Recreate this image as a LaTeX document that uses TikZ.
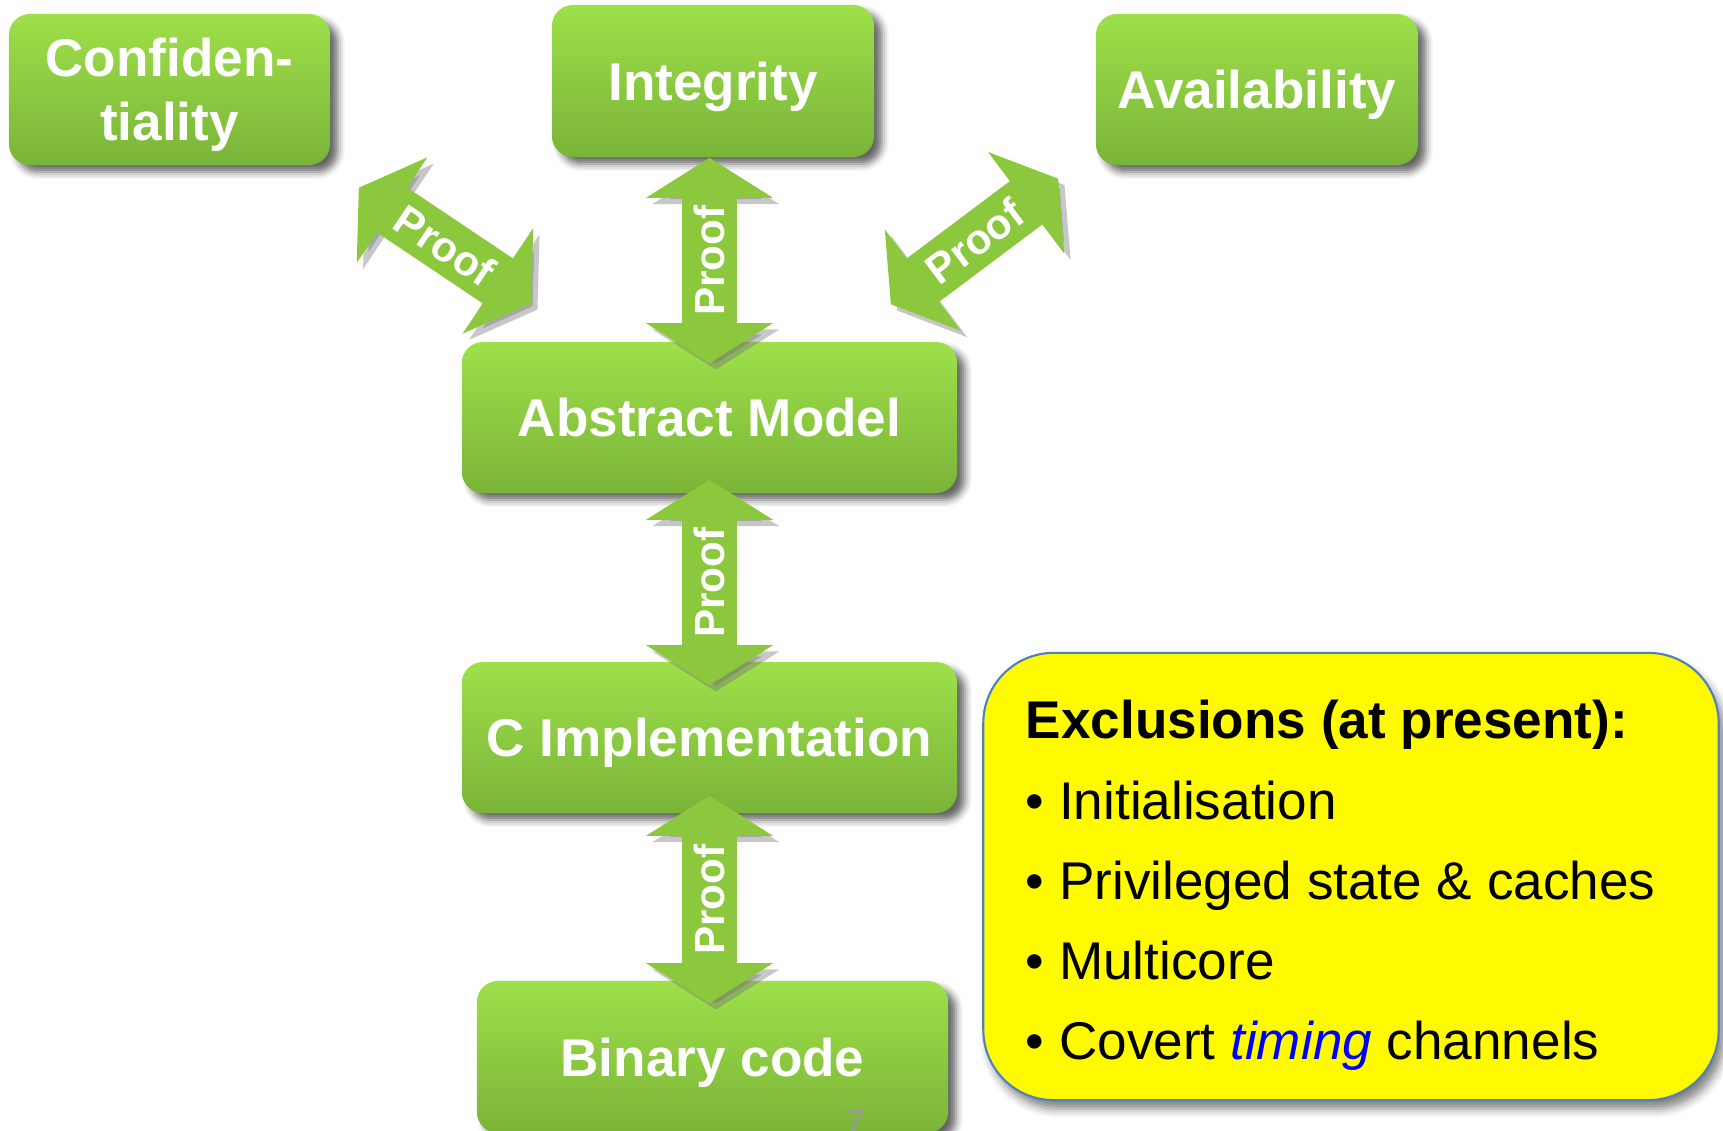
\documentclass[tikz,border=0pt]{standalone}
\usepackage{fontspec}
\setmainfont{Liberation Sans}
\usepackage{tikz}
\usetikzlibrary{calc}
\usetikzlibrary{arrows.meta}
\usetikzlibrary{shadows.blur}

\definecolor{boxtop}{RGB}{158,224,74}
\definecolor{boxbot}{RGB}{122,180,56}
\definecolor{arrowgreen}{RGB}{140,200,62}
\definecolor{exclyellow}{RGB}{255,250,0}
\definecolor{exclborder}{RGB}{79,129,189}

\tikzset{
  greenbox/.style={rounded corners=6pt, top color=boxtop, bottom color=boxbot, text=white,
    font=\bfseries\fontsize{15.1}{18.1}\selectfont, align=center, inner sep=0pt, text depth=0pt,
    blur shadow={shadow xshift=2.2pt, shadow yshift=-2pt, shadow blur radius=2pt, shadow opacity=60}},
  proof/.style={line width=15.4pt, arrowgreen,
    {Triangle[length=11.4pt, width=35.6pt]}-{Triangle[length=11.4pt, width=35.6pt]},
    preaction={draw=black!55, opacity=.4, transform canvas={shift={(1.8pt,-1.8pt)}}}},
  prooftext/.style={midway, sloped, text=white, font=\bfseries\fontsize{12}{12}\selectfont}
}

\begin{document}
\begin{tikzpicture}[x=0.01cm, y=-0.01cm]
  \useasboundingbox (0,0) rectangle (1723,1131);

  \node [greenbox, minimum width=3.21cm, minimum height=1.51cm] (conf) at (169.5,89.5) {Confiden-\\tiality};
  \node [greenbox, minimum width=3.22cm, minimum height=1.52cm] (integ) at (713,81) {Integrity};
  \node [greenbox, minimum width=3.22cm, minimum height=1.51cm] (avail) at (1257,89.5) {Availability};
  \node [greenbox, minimum width=4.95cm, minimum height=1.51cm] (abs) at (709.5,417.5) {Abstract Model};
  \node [greenbox, minimum width=4.95cm, minimum height=1.51cm] (cimpl) at (709.5,737.5) {C Implementation};
  \node [greenbox, minimum width=4.71cm, minimum height=1.52cm] (bin) at (712.5,1057) {Binary code};
  \node [anchor=base, text=black!40, font=\fontsize{10}{12}\selectfont] (pagenum) at (855,1135) {7};

  \node [draw=exclborder, line width=0.6pt, fill=exclyellow, rounded corners=20pt, minimum width=7.35cm, minimum height=4.47cm,
    blur shadow={shadow xshift=1.5pt, shadow yshift=-2.5pt, shadow blur radius=2.5pt, shadow opacity=50}] (excl) at (1351,876.5) {};
  \node [anchor=north west, inner sep=0pt, align=left, font=\fontsize{15.1}{22.8}\selectfont] (excltext)
    at ($(excl.north west)+(43,48)$) {\textbf{Exclusions (at present):}\\• Initialisation\\• Privileged state \& caches\\• Multicore\\• Covert \textcolor{blue}{\textit{timing}} channels};

  \draw [proof] ($(abs.north)+(0,22)$) -- node [prooftext] {Proof} (abs.north |- integ.south);
  \draw [proof] ($(cimpl.north)+(0,24)$) -- node [prooftext] {Proof} ($(abs.south)+(0,-14)$);
  \draw [proof] ($(cimpl.south |- bin.north)+(0,23)$) -- node [prooftext] {Proof} ($(cimpl.south)+(0,-18)$);
  \draw [proof] ($(conf.south east)+(28,22)$) -- node [prooftext] {Proof} ($(abs.north west)+(70,-38)$);
  \draw [proof] ($(abs.north east)+(-67,-37)$) -- node [prooftext] {Proof} ($(avail.south west)+(-37,13)$);
\end{tikzpicture}
\end{document}
